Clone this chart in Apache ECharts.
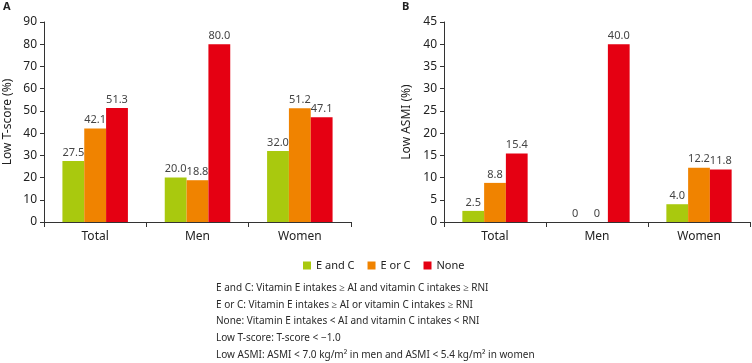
<!DOCTYPE html>
<html><head><meta charset="utf-8">
<script src="https://cdn.jsdelivr.net/npm/echarts@6/dist/echarts.min.js"></script>
<style>html,body{margin:0;padding:0;background:#fff}#c{width:752px;height:363px}</style>
</head><body><div id="c"></div>
<script>
const categories = ['Total', 'Men', 'Women'];
const seriesNames = ['E and C', 'E or C', 'None'];
const tScoreEandC = [27.5, 20.0, 32.0];
const tScoreEorC = [42.1, 18.8, 51.2];
const tScoreNone = [51.3, 80.0, 47.1];
const asmiEandC = [2.5, 0, 4.0];
const asmiEorC = [8.8, 0, 12.2];
const asmiNone = [15.4, 40.0, 11.8];
const notes = [
  'E and C: Vitamin E intakes \u2265 AI and vitamin C intakes \u2265 RNI',
  'E or C: Vitamin E intakes \u2265 AI or vitamin C intakes \u2265 RNI',
  'None: Vitamin E intakes < AI and vitamin C intakes < RNI',
  'Low T-score: T-score < \u22121.0',
  'Low ASMI: ASMI < 7.0 kg/m\u00b2 in men and ASMI < 5.4 kg/m\u00b2 in women'
];
const colors = ['#a9c90e', '#f08300', '#e50012'];
const FONT = 'Noto Sans';
const chart = echarts.init(document.getElementById('c'), null, {renderer: 'canvas'});
function fmt(p){ return p.value === 0 ? '0' : p.value.toFixed(1); }
function mk(name, data, idx, color){
  return {name: name, type: 'bar', xAxisIndex: idx, yAxisIndex: idx, data: data,
    barGap: '0%', barCategoryGap: '36%', itemStyle: {color: color},
    label: {show: true, position: 'top', distance: 3, formatter: fmt, fontSize: 11, color: '#444', fontFamily: FONT}};
}
const axisLine = {show: true, lineStyle: {color: '#333', width: 1}};
function xAx(gi){ return {type: 'category', gridIndex: gi, data: categories, axisLine: axisLine,
  axisTick: {show: true, length: 5, lineStyle: {color: '#333'}}, axisLabel: {fontSize: 12, color: '#222', margin: 9, fontFamily: FONT}}; }
function yAx(gi, max, interval, name, gap){ return {type: 'value', gridIndex: gi, min: 0, max: max, interval: interval,
  name: name, nameLocation: 'middle', nameGap: gap, nameTextStyle: {fontSize: 12, color: '#222', fontFamily: FONT},
  axisLine: axisLine, axisTick: {show: true, length: 4, lineStyle: {color: '#333'}}, splitLine: {show: false},
  axisLabel: {fontSize: 12, color: '#222', margin: 7, fontFamily: FONT}}; }
const graphics = [
  {type: 'text', left: 3, top: 1, style: {text: 'A', font: 'bold 11px ' + FONT, fill: '#222'}},
  {type: 'text', left: 402, top: 1, style: {text: 'B', font: 'bold 11px ' + FONT, fill: '#222'}}
];
notes.forEach((t, i) => graphics.push({type: 'text', left: 216, top: 283 + i * 16.75,
  style: {text: t, font: '10px ' + FONT, fill: '#2a2a2a'}}));
chart.setOption({
  animation: false,
  textStyle: {fontFamily: FONT},
  legend: {data: seriesNames, top: 255, left: 298, itemWidth: 8, itemHeight: 8, itemGap: 13,
    icon: 'rect', textStyle: {fontSize: 11, color: '#222', fontFamily: FONT}},
  grid: [
    {left: 44, top: 22, width: 307, height: 200},
    {left: 444, top: 22, width: 306, height: 200}
  ],
  xAxis: [xAx(0), xAx(1)],
  yAxis: [yAx(0, 90, 10, 'Low T-score (%)', 30), yAx(1, 45, 5, 'Low ASMI (%)', 31)],
  series: [
    mk(seriesNames[0], tScoreEandC, 0, colors[0]),
    mk(seriesNames[1], tScoreEorC, 0, colors[1]),
    mk(seriesNames[2], tScoreNone, 0, colors[2]),
    mk(seriesNames[0], asmiEandC, 1, colors[0]),
    mk(seriesNames[1], asmiEorC, 1, colors[1]),
    mk(seriesNames[2], asmiNone, 1, colors[2])
  ],
  graphic: graphics
});
</script></body></html>
